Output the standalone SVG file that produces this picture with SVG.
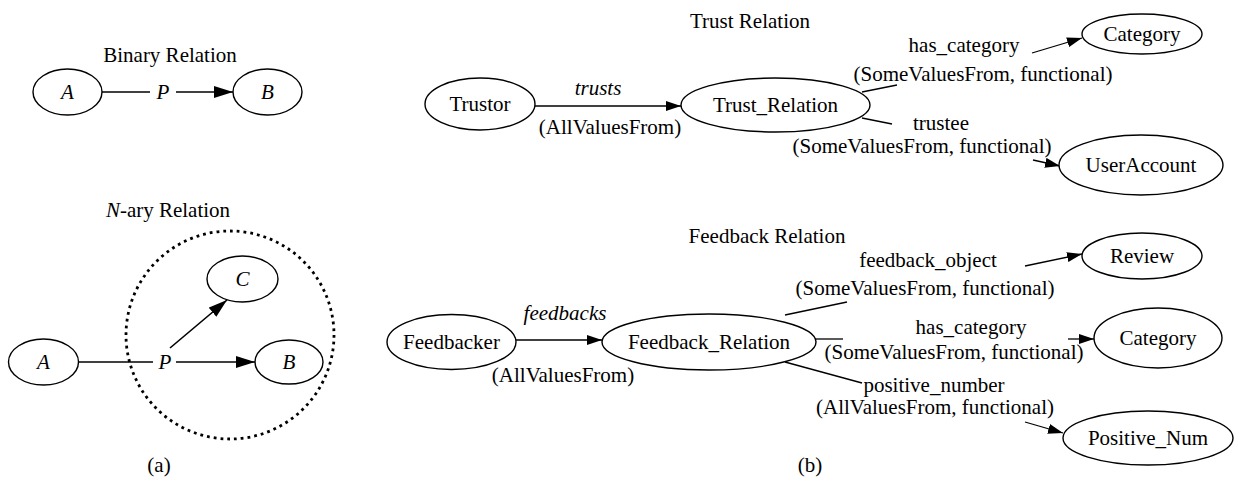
<svg xmlns="http://www.w3.org/2000/svg" width="1236" height="490" viewBox="0 0 1236 490">
  <style>
    text { font-family: "Liberation Serif", "Times New Roman", serif; font-size: 21px; fill: #000; }
    .c { text-anchor: middle; }
    .i { font-style: italic; }
    .node { fill: #fff; stroke: #000; stroke-width: 1.4; }
    .edge { fill: none; stroke: #000; stroke-width: 1.3; }
    .edge-a { fill: none; stroke: #000; stroke-width: 1.6; }
    .dotted { fill: none; stroke: #000; stroke-width: 2.8; stroke-dasharray: 2.8 4; }
  </style>
  <defs>
    <marker id="arrow" markerUnits="userSpaceOnUse" markerWidth="15" markerHeight="10" refX="15" refY="5" orient="auto">
      <path d="M0,0 L15,5 L0,10 z" fill="#000"/>
    </marker>
    <marker id="arrow-big" markerUnits="userSpaceOnUse" markerWidth="19" markerHeight="12" refX="19" refY="6" orient="auto">
      <path d="M0,0 L19,6 L0,12 z" fill="#000"/>
    </marker>
  </defs>

  <rect width="1236" height="490" fill="#fff"/>

  <!-- (a) binary and n-ary relation patterns -->
  <text class="c" x="170" y="62">Binary Relation</text>
  <text class="c" x="168" y="217"><tspan class="i">N</tspan>-ary Relation</text>
  <circle class="dotted" cx="230" cy="335" r="104"/>

  <g id="connectors-a">
    <line class="edge-a" x1="102" y1="92" x2="150" y2="92"/>
    <line class="edge-a" x1="176" y1="92" x2="233" y2="92" marker-end="url(#arrow-big)"/>
    <line class="edge-a" x1="79" y1="362" x2="153" y2="362"/>
    <line class="edge-a" x1="176" y1="362" x2="255" y2="362" marker-end="url(#arrow-big)"/>
    <line class="edge-a" x1="170" y1="348" x2="227" y2="300" marker-end="url(#arrow-big)"/>
    <text class="c i" x="163" y="99">P</text>
    <text class="c i" x="165" y="369">P</text>
  </g>

  <g id="bin-a">
    <ellipse class="node" cx="67.5" cy="92" rx="34.5" ry="23"/>
    <text class="c i" x="67.5" y="99">A</text>
  </g>
  <g id="bin-b">
    <ellipse class="node" cx="267.5" cy="92" rx="34.5" ry="23"/>
    <text class="c i" x="267.5" y="99">B</text>
  </g>
  <g id="nary-a">
    <ellipse class="node" cx="43.5" cy="362" rx="35" ry="23"/>
    <text class="c i" x="43.5" y="369">A</text>
  </g>
  <g id="nary-b">
    <ellipse class="node" cx="289" cy="362" rx="34" ry="22"/>
    <text class="c i" x="289" y="369">B</text>
  </g>
  <g id="nary-c">
    <ellipse class="node" cx="242.5" cy="279" rx="35.5" ry="23"/>
    <text class="c i" x="242.5" y="286">C</text>
  </g>

  <text class="c" x="159" y="472">(a)</text>

  <!-- (b) trust relation -->
  <text class="c" x="750" y="28">Trust Relation</text>

  <g id="connectors-trust">
    <line class="edge" x1="535" y1="106" x2="681" y2="106" marker-end="url(#arrow)"/>
    <text class="c i" x="598" y="95">trusts</text>
    <text class="c" x="610" y="134">(AllValuesFrom)</text>

    <line class="edge" x1="862" y1="92" x2="897" y2="85"/>
    <text class="c" x="964" y="52">has_category</text>
    <text class="c" x="983" y="81">(SomeValuesFrom, functional)</text>
    <line class="edge" x1="1032" y1="53" x2="1082" y2="38" marker-end="url(#arrow)"/>

    <line class="edge" x1="862" y1="118" x2="892" y2="124"/>
    <text class="c" x="941" y="130">trustee</text>
    <text class="c" x="922" y="153">(SomeValuesFrom, functional)</text>
    <line class="edge" x1="1033" y1="160" x2="1060" y2="166" marker-end="url(#arrow)"/>
  </g>

  <g id="trustor">
    <ellipse class="node" cx="480" cy="104" rx="55" ry="26"/>
    <text class="c" x="480" y="111">Trustor</text>
  </g>
  <g id="trust-relation">
    <ellipse class="node" cx="775.5" cy="105" rx="94.5" ry="27"/>
    <text class="c" x="775.5" y="112">Trust_Relation</text>
  </g>
  <g id="trust-category">
    <ellipse class="node" cx="1142" cy="34" rx="60" ry="20"/>
    <text class="c" x="1142" y="41">Category</text>
  </g>
  <g id="user-account">
    <ellipse class="node" cx="1141" cy="165" rx="82" ry="30"/>
    <text class="c" x="1141" y="172">UserAccount</text>
  </g>

  <!-- (b) feedback relation -->
  <text class="c" x="767" y="243">Feedback Relation</text>

  <g id="connectors-feedback">
    <line class="edge" x1="516" y1="340" x2="602" y2="340" marker-end="url(#arrow)"/>
    <text class="c i" x="565" y="320">feedbacks</text>
    <text class="c" x="563" y="382">(AllValuesFrom)</text>

    <line class="edge" x1="785" y1="315" x2="847" y2="302"/>
    <text class="c" x="928" y="267">feedback_object</text>
    <text class="c" x="925" y="295">(SomeValuesFrom, functional)</text>
    <line class="edge" x1="1025" y1="266" x2="1082" y2="254" marker-end="url(#arrow)"/>

    <line class="edge" x1="815" y1="339" x2="843" y2="339"/>
    <text class="c" x="971" y="334">has_category</text>
    <text class="c" x="954" y="359">(SomeValuesFrom, functional)</text>
    <line class="edge" x1="1068" y1="339" x2="1094" y2="339" marker-end="url(#arrow)"/>

    <line class="edge" x1="785" y1="362" x2="862" y2="383"/>
    <text class="c" x="934" y="392">positive_number</text>
    <text class="c" x="935" y="414">(AllValuesFrom, functional)</text>
    <line class="edge" x1="1025" y1="422" x2="1063" y2="433" marker-end="url(#arrow)"/>
  </g>

  <g id="feedbacker">
    <ellipse class="node" cx="451.5" cy="342" rx="64.5" ry="27.5"/>
    <text class="c" x="451.5" y="349">Feedbacker</text>
  </g>
  <g id="feedback-relation">
    <ellipse class="node" cx="709" cy="342" rx="107" ry="28"/>
    <text class="c" x="709" y="349">Feedback_Relation</text>
  </g>
  <g id="review">
    <ellipse class="node" cx="1142" cy="256" rx="60" ry="23"/>
    <text class="c" x="1142" y="263">Review</text>
  </g>
  <g id="feedback-category">
    <ellipse class="node" cx="1158" cy="338" rx="64" ry="30"/>
    <text class="c" x="1158" y="345">Category</text>
  </g>
  <g id="positive-num">
    <ellipse class="node" cx="1148" cy="438" rx="85" ry="27"/>
    <text class="c" x="1148" y="445">Positive_Num</text>
  </g>

  <text class="c" x="810" y="472">(b)</text>
</svg>
